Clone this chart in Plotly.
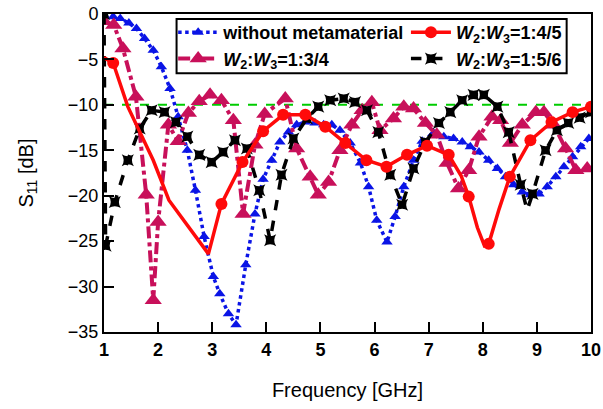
import plotly.graph_objects as go

# ---- data ----
blue_x = [1.0, 1.17, 1.30, 1.46, 1.60, 1.75, 1.91, 2.06, 2.22, 2.37, 2.54, 2.69, 2.85, 3.02, 3.14, 3.30, 3.44,
          3.62, 3.79, 3.94, 4.10, 4.25, 4.41, 4.56, 4.72, 4.90, 5.06, 5.21, 5.36, 5.55, 5.74, 5.89, 6.04, 6.23,
          6.38, 6.54, 6.72, 6.88, 7.09, 7.28, 7.46, 7.62, 7.77, 7.93, 8.11, 8.27, 8.42, 8.57, 8.73, 8.88, 9.04,
          9.19, 9.35, 9.50, 9.66, 9.81, 9.96]
blue_y = [-0.1, -0.3, -0.5, -1.0, -1.6, -2.7, -4.0, -5.8, -8.2, -11.3, -15.0, -19.4, -24.5, -28.9, -30.8, -33.0, -34.2,
          -27.6, -22.0, -18.2, -16.1, -14.1, -13.0, -12.2, -11.9, -12.0, -12.2, -12.2, -12.8, -14.2, -16.4, -19.0, -22.7, -25.1,
          -22.3, -19.0, -16.1, -14.0, -13.1, -13.5, -13.7, -14.1, -14.6, -15.2, -16.1, -17.0, -17.9, -18.8, -19.6, -19.9, -19.8,
          -19.0, -17.9, -16.8, -15.7, -14.6, -13.7]

red_x = [1.0, 1.17, 1.44, 1.91, 2.2, 2.93, 3.17, 3.56, 3.94, 4.31, 4.72, 5.09, 5.46, 5.85, 6.22, 6.60, 6.97, 7.37,
         7.6, 7.74, 7.9, 8.03, 8.11, 8.3, 8.50, 8.88, 9.27, 9.66, 10.0]
red_y = [-4.8, -5.4, -10.2, -16.1, -20.5, -26.4, -20.9, -16.3, -12.9, -11.1, -11.1, -12.4, -14.2, -16.1, -16.8, -15.5, -14.5, -15.5,
         -17.8, -20.1, -23.5, -25.5, -25.3, -21.5, -17.9, -13.9, -11.9, -10.8, -10.2]
red_marked = [0, 1, 0, 0, 0, 0, 1, 1, 1, 1, 1, 1, 1, 1, 1, 1, 1, 1,
              0, 1, 0, 0, 1, 0, 1, 1, 1, 1, 1]

mag_x = [1.0, 1.18, 1.35, 1.59, 1.78, 1.91, 2.0, 2.19, 2.37, 2.56, 2.76, 2.96, 3.17, 3.39, 3.57, 3.79, 3.97, 4.35,
         4.56, 4.81, 4.96, 5.15, 5.36, 5.58, 5.77, 5.95, 6.10, 6.35, 6.54, 6.72, 6.94, 7.15, 7.34, 7.55, 7.74, 7.93,
         8.17, 8.33, 8.51, 8.73, 8.98, 9.13, 9.31, 9.53, 9.72, 9.93]
mag_y = [-0.8, -1.2, -3.8, -9.1, -19.9, -31.5, -22.9, -12.2, -14.0, -10.9, -9.6, -8.9, -9.5, -11.7, -22.0, -14.4, -11.0, -9.3,
         -14.8, -17.9, -19.9, -18.5, -15.0, -12.2, -10.6, -9.7, -12.8, -11.5, -10.2, -10.4, -12.0, -13.3, -16.4, -19.2, -17.2, -13.5,
         -11.3, -11.7, -14.2, -12.2, -10.8, -10.8, -12.2, -14.8, -17.2, -17.0]

blk_x = [1.0, 1.03, 1.2, 1.44, 1.66, 1.88, 2.12, 2.33, 2.54, 2.76, 2.99, 3.20, 3.42, 3.64, 3.87, 4.07, 4.28, 4.50,
         4.75, 4.96, 5.18, 5.43, 5.64, 5.86, 6.07, 6.29, 6.51, 6.72, 6.94, 7.19, 7.40, 7.62, 7.83, 8.02, 8.27, 8.48,
         8.70, 8.82, 8.92, 9.16, 9.37, 9.58, 9.79, 10.0]
blk_y = [0.0, -25.5, -20.7, -16.1, -12.6, -10.6, -10.8, -11.9, -13.5, -15.5, -16.3, -15.2, -13.9, -14.8, -19.4, -24.9, -17.7, -13.7,
         -11.5, -10.2, -9.5, -9.3, -9.7, -10.6, -13.0, -17.7, -21.0, -17.0, -14.1, -12.0, -10.8, -9.5, -8.9, -8.9, -10.2, -13.0,
         -18.8, -21.6, -19.8, -15.0, -12.8, -12.0, -11.4, -10.8]
blk_marked = [1] * len(blk_x)
blk_marked[blk_x.index(8.82)] = 0

ref_level = -10
x_ticks = [1, 2, 3, 4, 5, 6, 7, 8, 9, 10]
y_ticks = [0, -5, -10, -15, -20, -25, -30, -35]

names = ["without metamaterial",
         "<i>W</i><sub>2</sub>:<i>W</i><sub>3</sub>=1:4/5",
         "<i>W</i><sub>2</sub>:<i>W</i><sub>3</sub>=1:3/4",
         "<i>W</i><sub>2</sub>:<i>W</i><sub>3</sub>=1:5/6"]

FONT = "Arial, Liberation Sans, sans-serif"
BLUE, RED, MAG, BLK = "#0a14e6", "#ff0a0a", "#c8105a", "#000000"

styles = {
    "blue": dict(line=dict(color=BLUE, width=3.5, dash="dot"), marker=dict(symbol="triangle-up", size=10, color=BLUE)),
    "red": dict(line=dict(color=RED, width=3.5), marker=dict(symbol="circle", size=12, color=RED)),
    "mag": dict(line=dict(color=MAG, width=4, dash="dashdot"), marker=dict(symbol="triangle-up", size=15, color=MAG)),
    "blk": dict(line=dict(color=BLK, width=3.5, dash="dash"),
                marker=dict(symbol="star-square", size=11, color=BLK)),
}
series = {"blue": (blue_x, blue_y), "red": (red_x, red_y), "mag": (mag_x, mag_y), "blk": (blk_x, blk_y)}

fig = go.Figure()

# reference -10 dB line
fig.add_trace(go.Scatter(x=[1, 10], y=[ref_level, ref_level], mode="lines",
                         line=dict(color="#00cc00", width=2, dash="dash"), showlegend=False, hoverinfo="skip"))

# data traces
fig.add_trace(go.Scatter(x=blue_x, y=blue_y, mode="lines+markers", showlegend=False,
                         line=styles["blue"]["line"], marker=styles["blue"]["marker"]))
fig.add_trace(go.Scatter(x=mag_x, y=mag_y, mode="lines+markers", showlegend=False,
                         line=styles["mag"]["line"], marker=styles["mag"]["marker"]))
fig.add_trace(go.Scatter(x=blk_x, y=blk_y, mode="lines", showlegend=False, line=styles["blk"]["line"]))
fig.add_trace(go.Scatter(x=[x for x, m in zip(blk_x, blk_marked) if m],
                         y=[y for y, m in zip(blk_y, blk_marked) if m],
                         mode="markers", showlegend=False, marker=styles["blk"]["marker"]))
fig.add_trace(go.Scatter(x=red_x, y=red_y, mode="lines", showlegend=False, line=styles["red"]["line"]))
fig.add_trace(go.Scatter(x=[x for x, m in zip(red_x, red_marked) if m],
                         y=[y for y, m in zip(red_y, red_marked) if m],
                         mode="markers", showlegend=False, marker=styles["red"]["marker"]))

# legend proxies: same series on a hidden overlay x axis whose range excludes the data (nothing drawn)
for key, name, leg in [("blue", names[0], "legend"), ("mag", names[2], "legend"),
                       ("red", names[1], "legend2"), ("blk", names[3], "legend2")]:
    sx, sy = series[key]
    fig.add_trace(go.Scatter(x=sx, y=sy, xaxis="x2", yaxis="y", mode="lines+markers", name=name, legend=leg,
                             line=styles[key]["line"], marker=styles[key]["marker"], hoverinfo="skip"))

leg_common = dict(orientation="v", yanchor="top", xanchor="left", bgcolor="rgba(0,0,0,0)", borderwidth=0,
                  font=dict(family=FONT, size=18, weight="bold"), itemwidth=40, tracegroupgap=0)

axis_common = dict(ticks="inside", ticklen=10, tickwidth=2, tickcolor="#000",
                   showline=True, linewidth=2, linecolor="#000", mirror=True, showgrid=False, zeroline=False,
                   automargin=False)

fig.update_layout(
    width=603, height=409,
    margin=dict(l=104, r=12, t=14, b=77, autoexpand=False),
    paper_bgcolor="white", plot_bgcolor="white",
    font=dict(family=FONT, color="#000000"),
    legend=dict(x=0.142, y=1.0, **leg_common),
    legend2=dict(x=0.620, y=1.0, **leg_common),
    xaxis=dict(range=[1, 10], tickvals=x_ticks,
               tickfont=dict(size=18, family=FONT, weight="bold"),
               title=dict(text="Frequency [GHz]", font=dict(size=20, family=FONT), standoff=24),
               **axis_common),
    yaxis=dict(range=[-35, 0], tickvals=y_ticks,
               tickfont=dict(size=18, family=FONT),
               title=dict(text="S<sub>11</sub> [dB]", font=dict(size=20, family=FONT), standoff=29),
               **axis_common),
    xaxis2=dict(overlaying="x", visible=False, range=[100, 110], fixedrange=True, automargin=False),
    shapes=[dict(type="rect", xref="paper", yref="paper", x0=0.149, x1=0.950, y0=0.8135, y1=0.984,
                 line=dict(color="#000000", width=2), fillcolor="#ffffff", layer="above")],
)

fig.write_html("out.html")
